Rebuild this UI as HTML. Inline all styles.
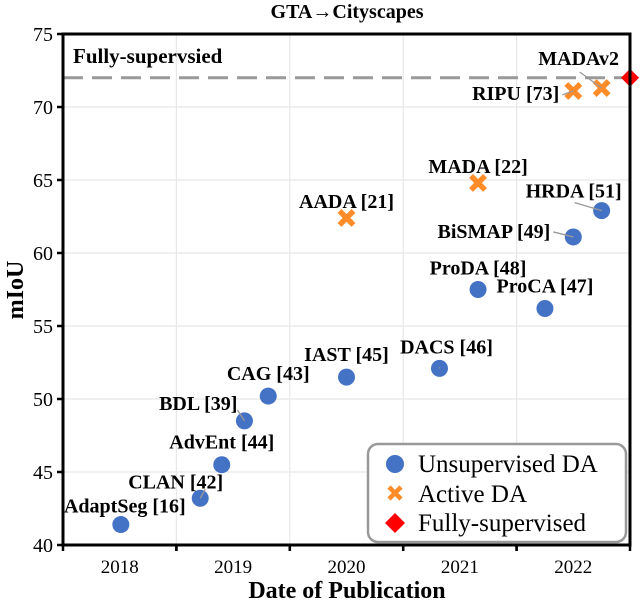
<!DOCTYPE html>
<html><head><meta charset="utf-8"><style>
body{margin:0;background:#fff}
svg text{font-family:"Liberation Serif",serif}
</style></head><body>
<svg id="chart" width="640" height="603" xmlns="http://www.w3.org/2000/svg">
<text x="347" y="18" text-anchor="middle" font-size="20" font-weight="bold">GTA→Cityscapes</text>
<g id="grid"></g>
<g id="marks"></g>
<g id="labels"></g>
<g id="axes"></g>
<text transform="translate(23,290) rotate(-90)" text-anchor="middle" font-size="24" font-weight="bold">mIoU</text>
<text x="347" y="598" text-anchor="middle" font-size="24" font-weight="bold">Date of Publication</text>
<g>
<rect x="368" y="444" width="258" height="98" rx="10" fill="#fff" stroke="#999" stroke-width="2.5"/>
<circle cx="395" cy="464" r="9" fill="#4472c4"/>
<text x="418" y="472" font-size="25">Unsupervised DA</text>
<path d="M389 487 L401 499 M401 487 L389 499" stroke="#ff8c28" stroke-width="4.5"/>
<text x="418" y="502" font-size="25">Active DA</text>
<path d="M395 513 L405 523 L395 533 L385 523 Z" fill="#ff0000"/>
<text x="418" y="531" font-size="25">Fully-supervised</text>
</g>
</svg>
<script>
const uNames=["AdaptSeg [16]","CLAN [42]","AdvEnt [44]","BDL [39]","CAG [43]","IAST [45]","DACS [46]","ProDA [48]","ProCA [47]","BiSMAP [49]","HRDA [51]"];
const uDates=[2018.01,2018.71,2018.9,2019.1,2019.31,2020.0,2020.82,2021.16,2021.75,2022.0,2022.25];
const uMiou=[41.4,43.2,45.5,48.5,50.2,51.5,52.1,57.5,56.2,61.1,62.9];
const aNames=["AADA [21]","MADA [22]","RIPU [73]","MADAv2"];
const aDates=[2020.0,2021.16,2022.0,2022.25];
const aMiou=[62.4,64.8,71.1,71.3];
const fullDate=[2022.5];
const fullMiou=[72.0];
const yTicks=[40,45,50,55,60,65,70,75];
const xTicks=[2018,2019,2020,2021,2022];
const X0=63,X1=630,Y0=545,Y1=34;
const xs=d=>X0+(d-2017.5)/(2022.5-2017.5)*(X1-X0);
const ys=v=>Y0-(v-40)/(75-40)*(Y0-Y1);
const NS="http://www.w3.org/2000/svg";
function mk(p,t,a){const e=document.createElementNS(NS,t);for(const k in a)e.setAttribute(k,a[k]);p.appendChild(e);return e;}
const grid=document.getElementById('grid'),marks=document.getElementById('marks'),labels=document.getElementById('labels'),axes=document.getElementById('axes');
yTicks.forEach(v=>{const l=mk(grid,'line',{x1:X0,x2:X1,y1:ys(v),y2:ys(v),stroke:'#e8e8e8','stroke-width':1.2});


const t=mk(axes,'line',{x1:X0-6,x2:X0,y1:ys(v),y2:ys(v),stroke:'#000','stroke-width':2.5});


const tx=mk(axes,'text',{x:X0-10,y:ys(v)+7,'text-anchor':'end','font-size':20});tx.textContent=v;

});
xTicks.forEach(d=>{const gx=xs(d+0.5);
if(d<2022){const l=mk(grid,'line',{x1:gx,x2:gx,y1:Y1,y2:Y0,stroke:'#e8e8e8','stroke-width':1.2});

}
[xs(d-0.5),gx].forEach(px=>{const t=mk(axes,'line',{x1:px,x2:px,y1:Y0,y2:Y0+6,stroke:'#000','stroke-width':2.5});

});
const tx=mk(axes,'text',{x:xs(d),y:Y0+28,'text-anchor':'middle','font-size':19});tx.textContent=d;

});
const fr=mk(axes,'rect',{x:X0,y:Y1,width:X1-X0,height:Y0-Y1,fill:'none',stroke:'#000','stroke-width':3});


const dl=mk(marks,'line',{x1:X0,x2:X1,y1:ys(fullMiou[0]),y2:ys(fullMiou[0]),stroke:'#999','stroke-width':3,'stroke-dasharray':'20,9'});


const fl=mk(labels,'text',{x:73,y:63,'font-size':21,'font-weight':'bold'});fl.textContent='Fully-supervsied';


// label offsets: dx, dy (baseline), anchor, leader-line start (relative to point) or null
const uLab=[[4,-12,'m',null],[23,-10,'e',[5,-9]],[0,-16,'m',null],[-7,-11,'e',[-7,-11]],[0,-16,'m',null],[0,-16,'m',null],[7,-15,'m',[0,-1]],[0,-15,'m',null],[0,-16,'m',null],[-23,1,'e',[-20,-5]],[-28,-13,'m',[-27,-8]]];
const aLab=[[0,-10,'m',null],[0,-10,'m',null],[-14,9,'e',[-11,4]],[-23,-23,'m',[-22,-16]]];
function label(px,py,name,o,nm){const tx=mk(labels,'text',{x:px+o[0],y:py+o[1],'text-anchor':o[2]=='e'?'end':'middle','font-size':20,'font-weight':'bold'});tx.textContent=name;


if(o[3]){const l=mk(labels,'line',{x1:px+o[3][0],y1:py+o[3][1],x2:px,y2:py,stroke:'#999','stroke-width':1.3});

}}
uDates.forEach((d,i)=>{const px=xs(d),py=ys(uMiou[i]);
label(px,py,uNames[i],uLab[i],'unsupervised-label');
const c=mk(marks,'circle',{cx:px,cy:py,r:8.5,fill:'#4472c4'});

});
aDates.forEach((d,i)=>{const px=xs(d),py=ys(aMiou[i]);
label(px,py,aNames[i],aLab[i],'active-label');
const c=mk(marks,'path',{d:`M${px-7} ${py-7}L${px+7} ${py+7}M${px+7} ${py-7}L${px-7} ${py+7}`,stroke:'#ff8c28','stroke-width':5.5});

});
fullDate.forEach((d,i)=>{const px=xs(d),py=ys(fullMiou[i]);
const c=mk(marks,'path',{d:`M${px} ${py-9}L${px+9} ${py}L${px} ${py+9}L${px-9} ${py}Z`,fill:'#ff0000'});

});
</script>
</body></html>
